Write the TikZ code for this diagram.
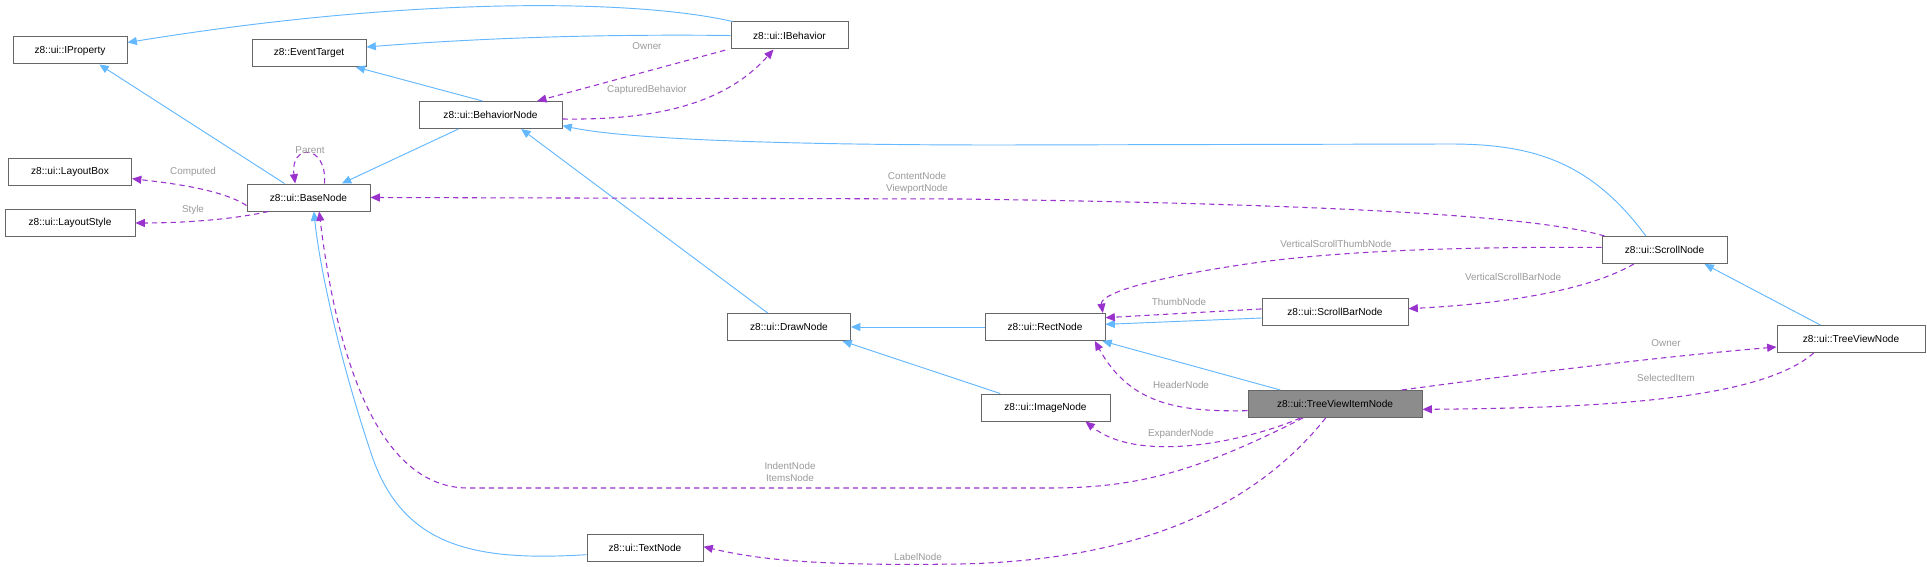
\documentclass[tikz,border=0pt]{standalone}
\usepackage{fontspec}
\setmainfont{Liberation Sans}
\usetikzlibrary{arrows.meta}
\definecolor{inh}{HTML}{63B8FF}
\definecolor{use}{HTML}{9A32CD}
\definecolor{lbl}{HTML}{9A9A9A}
\begin{document}
\begin{tikzpicture}[x=0.75pt,y=-0.75pt,
  cls/.style={draw=black!60,fill=white,line width=0.75pt,inner sep=0pt,minimum height=20.25pt,font=\fontsize{7.6}{9}\selectfont},
  cur/.style={cls,fill=black!45},
  inh/.style={draw=inh,line width=0.7pt,-{Triangle[length=7pt,width=6pt]}},
  use/.style={draw=use,line width=0.8pt,dash pattern=on 4pt off 3pt,-{Triangle[length=7pt,width=6pt]}},
  lab/.style={text=lbl,font=\fontsize{7.4}{9}\selectfont,align=center,inner sep=0pt}]
\useasboundingbox[fill=white] (0,0) rectangle (1927,567);
\node[cls,minimum width=85.5pt] (IProperty) at (70,50.5) {z8::ui::IProperty};
\node[cls,minimum width=85.5pt] (EventTarget) at (309,53) {z8::EventTarget};
\node[cls,minimum width=87.75pt] (IBehavior) at (789.5,35.5) {z8::ui::IBehavior};
\node[cls,minimum width=107.25pt] (BehaviorNode) at (490.5,115) {z8::ui::BehaviorNode};
\node[cls,minimum width=92.25pt] (LayoutBox) at (70,172) {z8::ui::LayoutBox};
\node[cls,minimum width=92.25pt] (BaseNode) at (308.5,197.5) {z8::ui::BaseNode};
\node[cls,minimum width=97.5pt] (LayoutStyle) at (70,223) {z8::ui::LayoutStyle};
\node[cls,minimum width=92.25pt] (DrawNode) at (789,327) {z8::ui::DrawNode};
\node[cls,minimum width=87pt] (TextNode) at (645,548) {z8::ui::TextNode};
\node[cls,minimum width=90pt] (RectNode) at (1045,327) {z8::ui::RectNode};
\node[cls,minimum width=96.75pt] (ImageNode) at (1045.5,407.5) {z8::ui::ImageNode};
\node[cur,minimum width=130.5pt] (TVI) at (1335,404) {z8::ui::TreeViewItemNode};
\node[cls,minimum width=109.5pt] (ScrollBarNode) at (1335,312) {z8::ui::ScrollBarNode};
\node[cls,minimum width=93.75pt] (ScrollNode) at (1664.5,250) {z8::ui::ScrollNode};
\node[cls,minimum width=111pt] (TreeViewNode) at (1851,339) {z8::ui::TreeViewNode};

% inheritance
\draw[inh] ([xshift=1.5pt]IBehavior.north west) .. controls (640,0) and (420,-5) .. ([yshift=6pt]IProperty.east);
\draw[inh] ([yshift=0pt]IBehavior.west) .. controls (600,34) and (480,38) .. ([yshift=4.5pt]EventTarget.east);
\draw[inh] ([xshift=-6pt]BehaviorNode.north) -- ([xshift=35pt]EventTarget.south);
\draw[inh] ([xshift=-18pt]BaseNode.north) -- ([xshift=22pt]IProperty.south);
\draw[inh] ([xshift=-24pt]BehaviorNode.south) -- ([xshift=25pt]BaseNode.north);
\draw[inh] ([xshift=-14pt]ScrollNode.north) .. controls (1590,160) and (1530,144) .. (1450,144) -- (1000,145) .. controls (760,145) and (620,138) .. ([yshift=-8pt]BehaviorNode.east);
\draw[inh] ([xshift=-16pt]DrawNode.north) -- ([xshift=23pt]BehaviorNode.south);
\draw[inh] (RectNode.west) -- (DrawNode.east);
\draw[inh] ([xshift=-34pt]ImageNode.north) -- ([xshift=40pt]DrawNode.south);
\draw[inh] ([yshift=-4.5pt]ScrollBarNode.west) -- ([yshift=2pt]RectNode.east);
\draw[inh] ([xshift=-23pt]TreeViewNode.north) -- ([xshift=30pt]ScrollNode.south);
\draw[inh] ([xshift=-41pt]TVI.north) -- ([xshift=43pt]RectNode.south);
\draw[inh] ([yshift=-5pt]TextNode.west) .. controls (470,562) and (400,545) .. (370,450) .. controls (340,360) and (320,270) .. ([xshift=4pt]BaseNode.south);

% usage
\draw[use] ([xshift=-4pt,yshift=-11pt]IBehavior.west) -- ([xshift=35pt]BehaviorNode.north);
\node[lab] at (647,46) {Owner};
\draw[use] ([yshift=-3pt]BehaviorNode.east) .. controls (640,120) and (720,110) .. ([xshift=-12pt]IBehavior.south);
\node[lab] at (647,90) {CapturedBehavior};
\draw[use] ([xshift=12pt]BaseNode.north) .. controls ([xshift=14pt,yshift=30pt]BaseNode.north) and ([xshift=-14pt,yshift=30pt]BaseNode.north) .. ([xshift=-10pt]BaseNode.north);
\node[lab] at (310,150) {Parent};
\draw[use] ([yshift=-6pt]BaseNode.west) .. controls (220,188) and (160,182) .. ([yshift=-5pt]LayoutBox.east);
\node[lab] at (193,172) {Computed};
\draw[use] ([xshift=-30pt]BaseNode.south) .. controls (230,220) and (180,223) .. (LayoutStyle.east);
\node[lab] at (193,210) {Style};
\draw[use] ([xshift=-45pt]ScrollNode.north) .. controls (1550,220) and (1400,205) .. (960,199) -- (BaseNode.east);
\node[lab] at (917,183) {ContentNode\\ViewportNode};
\draw[use] ([yshift=2pt]ScrollNode.west) .. controls (1500,247) and (1350,248) .. (1240,265) .. controls (1140,280) and (1100,295) .. ([xshift=-2pt]RectNode.north east);
\node[lab] at (1336,244) {VerticalScrollThumbNode};
\draw[use] ([xshift=-23pt]ScrollNode.south) .. controls (1580,295) and (1480,305) .. ([yshift=2.5pt]ScrollBarNode.east);
\node[lab] at (1513,277) {VerticalScrollBarNode};
\draw[use] ([yshift=2.3pt]ScrollBarNode.west) -- ([yshift=7pt]RectNode.east);
\node[lab] at (1179,302) {ThumbNode};
\draw[use] ([yshift=-5pt]TVI.west) .. controls (1180,412) and (1130,405) .. ([xshift=-8pt]RectNode.south east) ;
\node[lab] at (1181,385) {HeaderNode};
\draw[use] ([xshift=50pt]TVI.north) .. controls (1550,370) and (1680,355) .. ([yshift=-6pt]TreeViewNode.west);
\node[lab] at (1666,343) {Owner};
\draw[use] ([xshift=-28pt]TreeViewNode.south) .. controls (1760,400) and (1600,408) .. ([yshift=-4pt]TVI.east);
\node[lab] at (1666,378) {SelectedItem};
\draw[use] ([xshift=-26pt]TVI.south) .. controls (1250,440) and (1140,465) .. ([xshift=30pt]ImageNode.south);
\node[lab] at (1181,434) {ExpanderNode};
\draw[use] ([xshift=-24pt]TVI.south) .. controls (1200,470) and (1140,488) .. (1050,488) -- (470,488) .. controls (360,490) and (330,300) .. ([xshift=8pt]BaseNode.south);
\node[lab] at (790,472) {IndentNode\\ItemsNode};
\draw[use] ([xshift=-7pt]TVI.south) .. controls (1260,500) and (1150,560) .. (960,564) .. controls (820,566) and (760,560) .. ([yshift=1pt]TextNode.east);
\node[lab] at (918,557) {LabelNode};
\end{tikzpicture}
\end{document}
